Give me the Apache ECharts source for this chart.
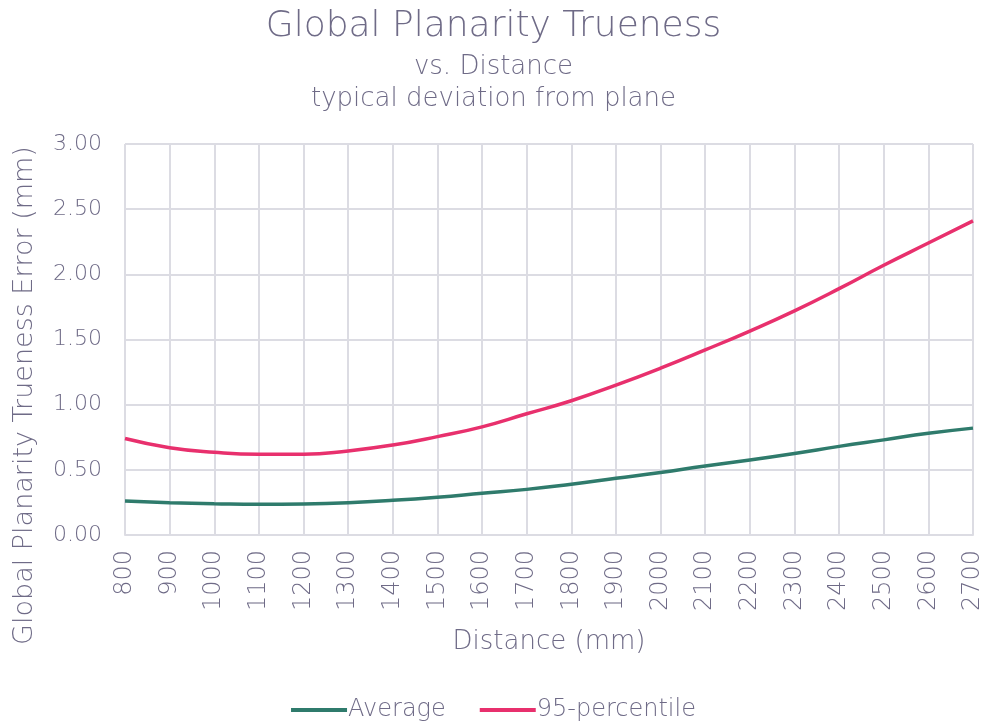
<!DOCTYPE html>
<html><head><meta charset="utf-8">
<script src="https://cdn.jsdelivr.net/npm/echarts@6/dist/echarts.min.js"></script>
<style>html,body{margin:0;padding:0;background:#fff}#c{width:987px;height:727px}</style>
</head><body><div id="c"></div>
<script>
const categories = ['800','900','1000','1100','1200','1300','1400','1500','1600','1700','1800','1900','2000','2100','2200','2300','2400','2500','2600','2700'];
const average = [0.26,0.248,0.24,0.235,0.238,0.248,0.266,0.29,0.32,0.35,0.39,0.435,0.48,0.53,0.575,0.625,0.68,0.73,0.78,0.82];
const p95 = [0.74,0.67,0.635,0.62,0.62,0.645,0.69,0.755,0.83,0.93,1.03,1.15,1.28,1.42,1.565,1.72,1.89,2.07,2.24,2.41];
const yTicks = [0,0.5,1,1.5,2,2.5,3];

const txt = '#6f6b87';
const font = '"DejaVu Sans", sans-serif';
const fw = 200;
const chart = echarts.init(document.getElementById('c'));
chart.setOption({
  animation:false,
  textStyle:{fontFamily:font,color:txt},
  title:[
    {text:'Global Planarity Trueness',left:'center',top:4,textStyle:{fontSize:36,fontWeight:fw,color:txt,fontFamily:font}},
    {text:'vs. Distance',left:'center',top:49,textStyle:{fontSize:26,fontWeight:fw,color:txt,fontFamily:font}},
    {text:'typical deviation from plane',left:'center',top:81,textStyle:{fontSize:26,fontWeight:fw,color:txt,fontFamily:font}}
  ],
  legend:{bottom:0,left:'center',itemWidth:56,itemHeight:4,itemGap:34,icon:'rect',
    textStyle:{fontSize:24,color:txt,fontFamily:font,fontWeight:fw,padding:[0,0,0,-4]},
    data:['Average','95-percentile']},
  grid:{left:125,right:14,top:144,bottom:192,containLabel:false,outerBoundsMode:'none'},
  xAxis:{type:'category',data:categories,boundaryGap:false,
    name:'Distance (mm)',nameLocation:'middle',nameGap:94,nameTextStyle:{fontSize:26,fontWeight:fw,color:txt,fontFamily:font},
    axisLine:{lineStyle:{color:'#dcdce3',width:2}},axisTick:{show:false},
    axisLabel:{rotate:90,fontSize:24,fontWeight:fw,color:txt,margin:15,fontFamily:font},
    splitLine:{show:true,lineStyle:{color:'#dcdce3',width:2}}},
  yAxis:{type:'value',min:0,max:3,interval:0.5,
    name:'Global Planarity Trueness Error (mm)',nameLocation:'middle',nameGap:87,
    nameTextStyle:{fontSize:27,fontWeight:fw,color:txt,fontFamily:font,padding:[0,112,0,0]},
    axisLine:{show:false},axisTick:{show:false},
    axisLabel:{fontSize:22,fontWeight:fw,color:txt,margin:23,fontFamily:font,formatter:v=>v.toFixed(2)},
    splitLine:{lineStyle:{color:'#dcdce3',width:2}}},
  series:[
    {name:'Average',type:'line',data:average,smooth:0.5,showSymbol:false,symbol:'none',
      lineStyle:{color:'#2f7b6c',width:3.5},itemStyle:{color:'#2f7b6c'}},
    {name:'95-percentile',type:'line',data:p95,smooth:0.5,showSymbol:false,symbol:'none',
      lineStyle:{color:'#e8306d',width:3.5},itemStyle:{color:'#e8306d'}}
  ]
});
</script></body></html>
